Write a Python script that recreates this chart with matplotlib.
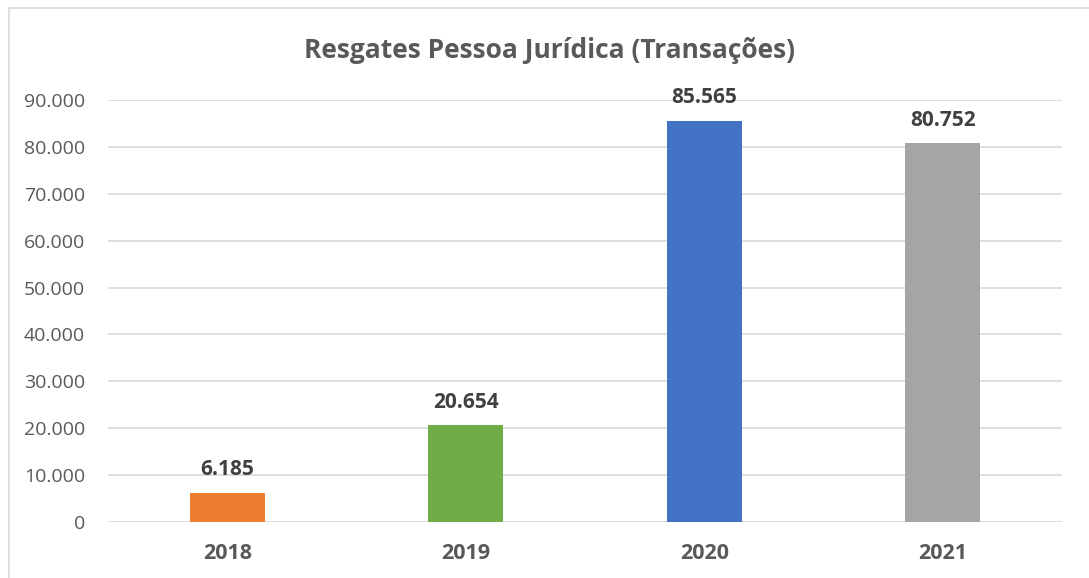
import matplotlib
matplotlib.use("Agg")
import matplotlib.pyplot as plt
from matplotlib.lines import Line2D
from matplotlib.ticker import FuncFormatter

anos = ["2018", "2019", "2020", "2021"]
transacoes = [6185, 20654, 85565, 80752]
cores = ["#ED7D31", "#70AD47", "#4472C4", "#A5A5A5"]

plt.rcParams['font.family'] = ['Open Sans', 'DejaVu Sans']

W, H = 1089, 578
fig = plt.figure(figsize=(W / 100, H / 100), dpi=100)
ax = fig.add_axes([108 / W, 1 - 522 / H, (1062 - 108) / W, (522 - 100) / H])

x = range(len(anos))
bars = ax.bar(x, transacoes, width=0.315, color=cores, zorder=3)

def fmt_br(v):
    return f"{int(round(v)):,}".replace(",", ".")

for b, v in zip(bars, transacoes):
    ax.annotate(fmt_br(v), (b.get_x() + b.get_width() / 2, v),
                xytext=(0, 9), textcoords="offset points",
                ha="center", va="bottom", fontsize=15, fontweight="bold",
                color="#404040")

ax.set_xlim(-0.5, 3.5)
ax.set_ylim(0, 90000)
ax.set_yticks(range(0, 90001, 10000))
ax.yaxis.set_major_formatter(FuncFormatter(lambda v, p: fmt_br(v)))
ax.set_xticks(list(x))
ax.set_xticklabels(anos, fontweight="bold", fontsize=15.5)
ax.tick_params(axis="both", length=0, colors="#595959")
ax.tick_params(axis="y", pad=16.5, labelsize=14)
ax.tick_params(axis="x", pad=15)
ax.grid(axis="y", color="#D9D9D9", linewidth=1.2, zorder=0)
for s in ax.spines.values():
    s.set_visible(False)

fig.text(550 / W, 1 - 51 / H, "Resgates Pessoa Jurídica (Transações)",
         ha="center", va="center", fontsize=19, fontweight="bold", color="#595959")

# moldura do gráfico (só topo e esquerda aparecem no recorte)
fig.add_artist(Line2D([9 / W, 1], [1 - 8 / H, 1 - 8 / H], color="#D9D9D9", lw=1.2))
fig.add_artist(Line2D([9 / W, 9 / W], [0, 1 - 8 / H], color="#D9D9D9", lw=1.2))

fig.savefig("out.png", dpi=100)
